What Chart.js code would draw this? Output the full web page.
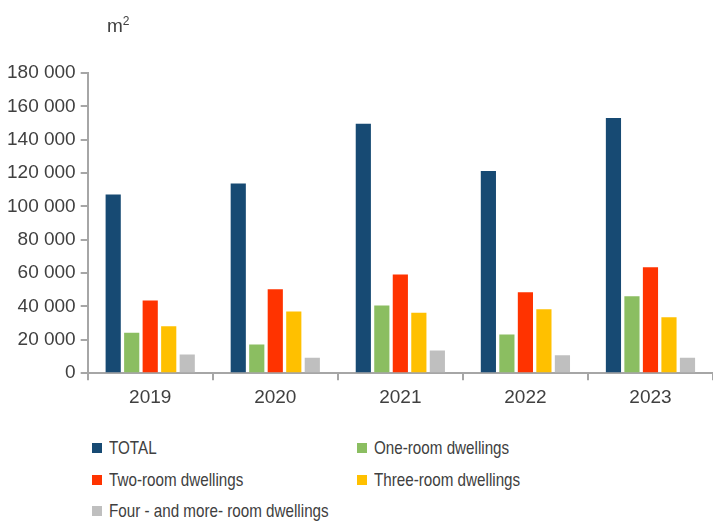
<!DOCTYPE html>
<html>
<head>
<meta charset="utf-8">
<script src="https://cdn.jsdelivr.net/npm/chart.js@4/dist/chart.umd.min.js"></script>
<style>
  body { margin: 0; background: #fff; }
  #wrap { position: relative; width: 713px; height: 524px; font-family: "Liberation Sans", sans-serif; color: #404040; }
  #chartBox { position: absolute; left: 0; top: 0; width: 713px; height: 415px; }
  #unit { position: absolute; left: 107px; top: 14px; font-size: 19px; }
  #unit sup { font-size: 12px; }
  #legend { position: absolute; left: 92px; top: 437px; display: grid; grid-template-columns: 265px 300px; row-gap: 9.5px; }
  .item { display: flex; align-items: center; font-size: 19px; height: 22px; white-space: nowrap; }
  .box { width: 10px; height: 10px; margin-right: 7px; flex: none; }
  .txt { display: inline-block; transform: scaleX(0.8); transform-origin: left center; }
</style>
</head>
<body>
<div id="wrap">
  <div id="chartBox"><canvas id="barchart"></canvas></div>
  <div id="unit">m<sup>2</sup></div>
  <div id="legend"></div>
</div>
<script>
const years = ["2019", "2020", "2021", "2022", "2023"];
const seriesNames = ["TOTAL", "One-room dwellings", "Two-room dwellings", "Three-room dwellings", "Four - and more- room dwellings"];
const total = [107200, 113800, 149600, 121200, 153000];
const oneRoom = [24200, 17200, 40600, 23200, 46200];
const twoRoom = [43600, 50400, 59200, 48600, 63600];
const threeRoom = [28200, 37000, 36200, 38400, 33600];
const fourPlus = [11200, 9200, 13600, 10800, 9200];
const yTicks = [0, 20000, 40000, 60000, 80000, 100000, 120000, 140000, 160000, 180000];

const colors = ["#174a73", "#8bbe61", "#ff3300", "#ffc000", "#bfbfbf"];
const values = [total, oneRoom, twoRoom, threeRoom, fourPlus];

const fontFamily = '"Liberation Sans", sans-serif';
const axisColor = "#a6a6a6";

var datasets = [];
values.forEach(function (item, index) {
  datasets.push({
    label: seriesNames[index],
    data: item,
    backgroundColor: colors[index],
    barPercentage: 0.82,
    categoryPercentage: 0.74
  });
});

var ctx = document.getElementById("barchart").getContext("2d");
window.myChart = new Chart(ctx, {
  type: "bar",
  data: { labels: years, datasets: datasets },
  options: {
    responsive: true,
    maintainAspectRatio: false,
    animation: false,
    layout: { padding: { top: 73, left: 2, right: 0, bottom: 0 } },
    plugins: {
      legend: { display: false },
      tooltip: { enabled: false }
    },
    scales: {
      x: {
        grid: { display: true, drawOnChartArea: false, offset: true, tickLength: 7, color: axisColor, lineWidth: 2 },
        border: { color: axisColor, width: 2 },
        ticks: { color: "#404040", font: { family: fontFamily, size: 19 }, padding: 6 }
      },
      y: {
        min: 0,
        max: 180000,
        afterBuildTicks: function (axis) {
          axis.ticks = yTicks.map(function (v) { return { value: v }; });
        },
        grid: { display: true, drawOnChartArea: false, tickLength: 7, color: axisColor, lineWidth: 2 },
        border: { color: axisColor, width: 2 },
        ticks: {
          color: "#404040",
          font: { family: fontFamily, size: 19 },
          padding: 5,
          callback: function (v) { return v.toLocaleString("en").replace(/,/g, " "); }
        }
      }
    }
  }
});

var legend = document.getElementById("legend");
window.myChart.data.datasets.forEach(function (ds) {
  var item = document.createElement("div");
  item.className = "item";
  var box = document.createElement("span");
  box.className = "box";
  box.style.background = ds.backgroundColor;
  var txt = document.createElement("span");
  txt.className = "txt";
  txt.textContent = ds.label;
  item.appendChild(box);
  item.appendChild(txt);
  legend.appendChild(item);
});
</script>
</body>
</html>
